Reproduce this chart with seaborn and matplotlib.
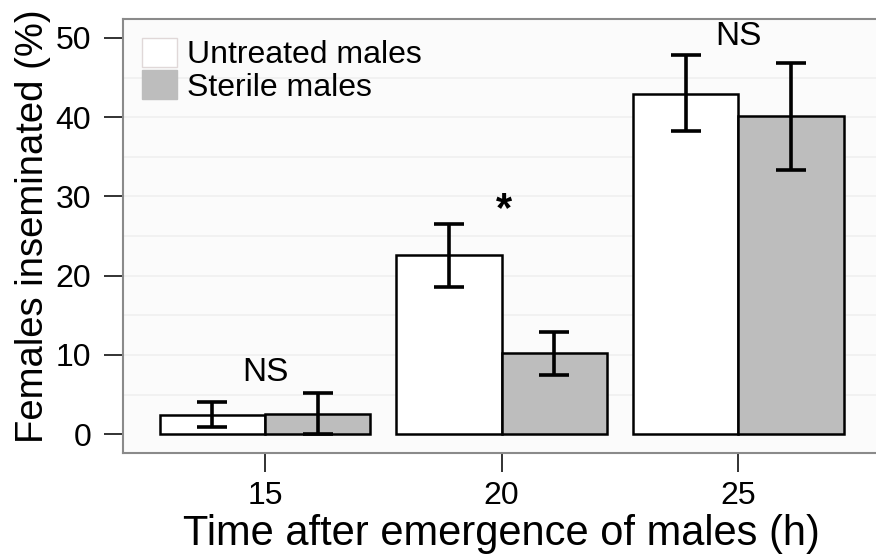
import pandas as pd
import matplotlib
matplotlib.use("Agg")
import matplotlib.pyplot as plt
import seaborn as sns
from matplotlib.patches import Patch

# --- DATA ---
times = ["15", "20", "25"]
untreated = [2.4, 22.6, 42.9]
untreated_lo = [0.9, 18.6, 38.3]
untreated_hi = [4.1, 26.5, 47.9]
sterile = [2.6, 10.2, 40.1]
sterile_lo = [0.0, 7.5, 33.3]
sterile_hi = [5.2, 12.9, 46.8]
groups = ["Untreated males", "Sterile males"]
signif = ["NS", "*", "NS"]
signif_y = [7.8, 29.2, 50.2]

df = pd.DataFrame({
    "Time": times * 2,
    "Group": [groups[0]] * 3 + [groups[1]] * 3,
    "Pct": untreated + sterile,
    "Lo": untreated_lo + sterile_lo,
    "Hi": untreated_hi + sterile_hi,
})

sns.set_theme(style="white")
plt.rcParams["font.family"] = ["Liberation Sans", "DejaVu Sans"]
plt.rcParams["text.color"] = "black"

fig = plt.figure(figsize=(8.76, 5.56), dpi=100)
ax = fig.add_axes([0.1404, 0.185, 0.8646, 0.781])
ax.set_facecolor("#fbfbfb")

sns.barplot(data=df, x="Time", y="Pct", hue="Group", order=times, hue_order=groups,
            palette=["white", "#bdbdbd"], edgecolor="black", linewidth=1.8,
            width=0.89, errorbar=None, legend=False, ax=ax, zorder=3)

# error bars at the centre of each bar
for cont, g in zip(ax.containers, groups):
    sub = df[df["Group"] == g].set_index("Time").loc[times]
    xs = [p.get_x() + p.get_width() / 2 for p in cont.patches]
    ax.errorbar(xs, sub["Pct"], yerr=[sub["Pct"] - sub["Lo"], sub["Hi"] - sub["Pct"]],
                fmt="none", ecolor="black", elinewidth=2.6, capsize=11, capthick=2.6, zorder=4)

for i, (s, y) in enumerate(zip(signif, signif_y)):
    if s == "*":
        ax.text(i + 0.01, y - 0.9, s, ha="center", va="center", fontsize=30, fontweight="bold", zorder=5)
    else:
        ax.text(i, y, s, ha="center", va="center", fontsize=24, zorder=5)

ax.set_ylim(-2.4, 52.4)
ax.set_xlim(-0.6, 2.6)
ax.set_yticks([0, 10, 20, 30, 40, 50])
for v in range(5, 50, 5):
    ax.axhline(v, color="#f0f0f0", lw=1.2, zorder=0)

ax.tick_params(axis="both", direction="out", length=14, width=1.3, color="#222222",
               labelsize=23, labelcolor="black", left=True, bottom=True)
ax.tick_params(axis="y", pad=9)
ax.tick_params(axis="x", pad=6)
for sp in ax.spines.values():
    sp.set_color("#8a8a8a")
    sp.set_linewidth(1.5)

ax.set_xlabel("Time after emergence of males (h)", fontsize=30, labelpad=2, color="black")
ax.set_ylabel("Females inseminated (%)", fontsize=27.5, labelpad=3, color="black")
ax.yaxis.label.set_y(0.523)

handles = [Patch(facecolor="white", edgecolor="#e0d8d8", linewidth=1),
           Patch(facecolor="#bdbdbd", edgecolor="#bdbdbd", linewidth=1)]
ax.legend(handles, groups, loc="upper left", frameon=False, fontsize=23,
          handlelength=1.1, handleheight=1.0, handletextpad=0.3, labelspacing=0.0,
          borderaxespad=0.2, bbox_to_anchor=(0.0, 1.0))

plt.savefig("out.png", dpi=100)
